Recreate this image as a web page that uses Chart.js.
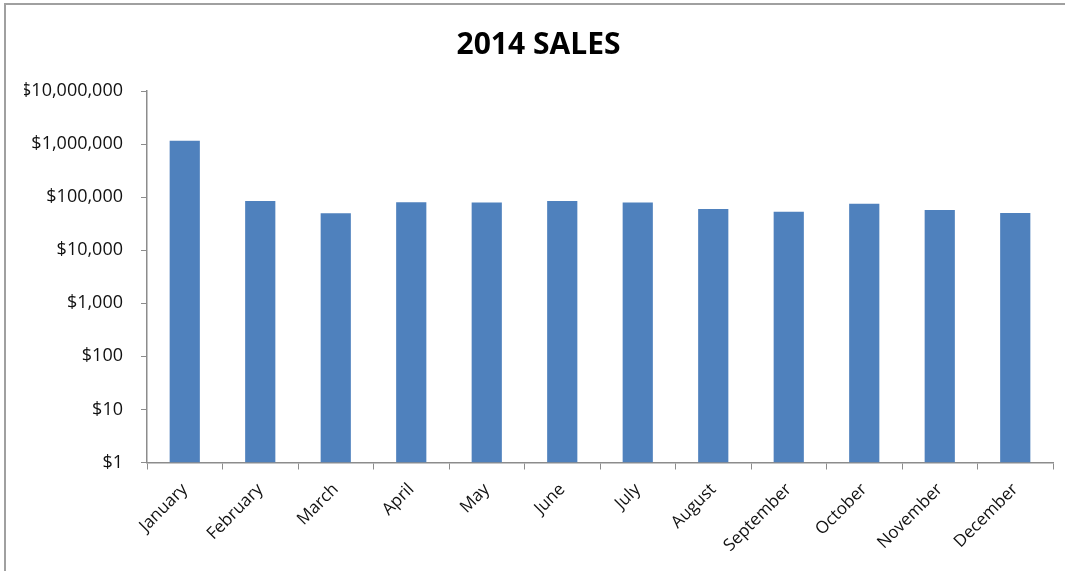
<!DOCTYPE html>
<html>
<head>
<meta charset="utf-8">
<script src="https://cdn.jsdelivr.net/npm/chart.js@4/dist/chart.umd.min.js"></script>
<style>
  html, body { margin: 0; padding: 0; background: #fff; overflow: hidden; }
  #wrap { position: relative; width: 1065px; height: 571px; }
  #frame { position: absolute; left: 4px; top: 3px; width: 1200px; height: 700px;
           border-left: 2px solid #a0a0a0; border-top: 2px solid #a0a0a0; }
  canvas { position: absolute; left: 0; top: 0; }
</style>
</head>
<body>
<div id="wrap">
  <div id="frame"></div>
  <canvas id="chart" width="1065" height="571"></canvas>
</div>
<script>
// Monthly sales for 2014
const months = ['January', 'February', 'March', 'April', 'May', 'June',
                'July', 'August', 'September', 'October', 'November', 'December'];
const sales = [1150000, 85000, 49500, 80500, 79500, 85000,
               79500, 60000, 53000, 75000, 57500, 50000];
// Powers of ten shown on the logarithmic value axis
const yTicks = [1, 10, 100, 1000, 10000, 100000, 1000000, 10000000];

const fontFamily = '"Open Sans", "DejaVu Sans", sans-serif';
const axisGrey = '#8c8c8c';

new Chart(document.getElementById('chart'), {
  type: 'bar',
  data: {
    labels: months,
    datasets: [{
      label: 'Sales',
      data: sales,
      backgroundColor: '#4F81BD',
      borderWidth: 0,
      categoryPercentage: 1.0,
      barPercentage: 0.4
    }]
  },
  options: {
    responsive: false,
    animation: false,
    events: [],
    layout: { padding: { left: 24, right: 12, top: 0, bottom: 0 } },
    plugins: {
      legend: { display: false },
      tooltip: { enabled: false },
      title: {
        display: true,
        text: '2014 SALES',
        color: '#000',
        font: { family: fontFamily, size: 30, weight: 'bold', lineHeight: 1.2 },
        padding: { top: 27, bottom: 28 }
      }
    },
    scales: {
      x: {
        grid: {
          display: true, drawOnChartArea: false, drawTicks: true,
          tickLength: 7, color: axisGrey, offset: true
        },
        border: { display: true, color: axisGrey, width: 1.5 },
        ticks: {
          color: '#111', font: { family: fontFamily, size: 17 },
          minRotation: 45, maxRotation: 45, autoSkip: false, padding: 10
        },
        afterFit: (scale) => { scale.height = 108.5; }
      },
      y: {
        type: 'logarithmic',
        min: 1,
        max: 10000000,
        grid: {
          display: true, drawOnChartArea: false, drawTicks: true,
          tickLength: 6, color: axisGrey
        },
        border: { display: true, color: axisGrey, width: 1.5 },
        ticks: {
          color: '#111', font: { family: fontFamily, size: 18 }, padding: 18,
          callback: (v) => '$' + Number(v).toLocaleString('en-US')
        },
        afterBuildTicks: (scale) => { scale.ticks = yTicks.map(v => ({ value: v })); },
        afterFit: (scale) => { scale.width = 123; }
      }
    }
  }
});
</script>
</body>
</html>
